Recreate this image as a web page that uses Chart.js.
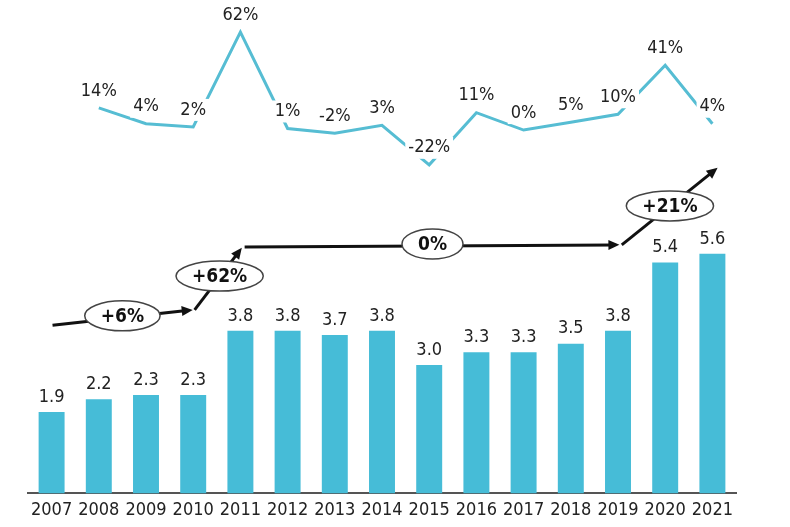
<!DOCTYPE html>
<html>
<head>
<meta charset="utf-8">
<script src="https://cdn.jsdelivr.net/npm/chart.js@4/dist/chart.umd.min.js"></script>
<style>
  html, body { margin: 0; padding: 0; background: #fff; }
  #wrap { width: 790px; height: 527px; }
</style>
</head>
<body>
<div id="wrap"><canvas id="chart"></canvas></div>
<script>
const years = ['2007', '2008', '2009', '2010', '2011', '2012', '2013', '2014', '2015', '2016', '2017', '2018', '2019', '2020', '2021'];
const values = [1.9, 2.2, 2.3, 2.3, 3.8, 3.8, 3.7, 3.8, 3.0, 3.3, 3.3, 3.5, 3.8, 5.4, 5.6];
const growth = [null, 14, 4, 2, 62, 1, -2, 3, -22, 11, 0, 5, 10, 41, 4];

// trend arrows, in [category index, value] units
const arrowSegments = [
    [[0.02, 3.93], [2.99, 4.29]],
    [[3.03, 4.29], [4.03, 5.74]],
    [[4.09, 5.76], [12.03, 5.81]],
    [[12.08, 5.81], [14.11, 7.61]]
];
const arrowLabels = ['+6%', '+62%', '0%', '+21%'];
const arrowLabelPos = [[1.5, 4.15], [3.56, 5.08], [8.07, 5.83], [13.1, 6.72]];

const FONT = "'DejaVu Sans Condensed', 'DejaVu Sans', sans-serif";
const BAR_COLOR = '#46BCD7';
const LINE_COLOR = '#56BDD3';

const labelsPlugin = {
    id: 'labels',
    afterDatasetsDraw(chart) {
        const ctx = chart.ctx;
        const x = chart.scales.x, y = chart.scales.y;
        ctx.save();
        ctx.textAlign = 'center';
        ctx.textBaseline = 'middle';

        // bar value labels
        ctx.font = '18px ' + FONT;
        ctx.fillStyle = '#222';
        chart.getDatasetMeta(0).data.forEach((bar, i) => {
            ctx.fillText(values[i].toFixed(1), bar.x, bar.y - 15);
        });

        // growth labels with white box behind them
        chart.getDatasetMeta(1).data.forEach((pt, i) => {
            if (growth[i] === null) return;
            const txt = growth[i] + '%';
            const w = ctx.measureText(txt).width;
            ctx.fillStyle = '#fff';
            ctx.fillRect(pt.x - w / 2 - 3, pt.y - 17 - 11, w + 6, 22);
            ctx.fillStyle = '#222';
            ctx.fillText(txt, pt.x, pt.y - 17);
        });

        // arrows
        ctx.strokeStyle = '#111';
        ctx.fillStyle = '#111';
        ctx.lineWidth = 3;
        arrowSegments.forEach(seg => {
            const x0 = x.getPixelForValue(seg[0][0]), y0 = y.getPixelForValue(seg[0][1]);
            const x1 = x.getPixelForValue(seg[1][0]), y1 = y.getPixelForValue(seg[1][1]);
            const a = Math.atan2(y1 - y0, x1 - x0);
            ctx.beginPath();
            ctx.moveTo(x0, y0);
            ctx.lineTo(x1 - 6 * Math.cos(a), y1 - 6 * Math.sin(a));
            ctx.stroke();
            ctx.beginPath();
            ctx.moveTo(x1, y1);
            ctx.lineTo(x1 - 11 * Math.cos(a) + 5 * Math.sin(a), y1 - 11 * Math.sin(a) - 5 * Math.cos(a));
            ctx.lineTo(x1 - 11 * Math.cos(a) - 5 * Math.sin(a), y1 - 11 * Math.sin(a) + 5 * Math.cos(a));
            ctx.closePath();
            ctx.fill();
        });

        // ellipses with the growth between periods
        ctx.font = 'bold 19px ' + FONT;
        arrowLabels.forEach((txt, i) => {
            const cx = x.getPixelForValue(arrowLabelPos[i][0]);
            const cy = y.getPixelForValue(arrowLabelPos[i][1]);
            const w = ctx.measureText(txt).width;
            ctx.beginPath();
            ctx.ellipse(cx, cy, w / 2 + 16, 15, 0, 0, Math.PI * 2);
            ctx.fillStyle = '#fff';
            ctx.fill();
            ctx.lineWidth = 1.5;
            ctx.strokeStyle = '#444';
            ctx.stroke();
            ctx.fillStyle = '#111';
            ctx.fillText(txt, cx, cy + 1);
        });
        ctx.restore();
    }
};

new Chart(document.getElementById('chart'), {
    data: {
        labels: years,
        datasets: [{
            type: 'bar',
            data: values,
            backgroundColor: BAR_COLOR,
            barPercentage: 0.55,
            categoryPercentage: 1,
            yAxisID: 'y',
            order: 2
        }, {
            type: 'line',
            data: growth,
            borderColor: LINE_COLOR,
            borderWidth: 3,
            pointRadius: 0,
            tension: 0,
            spanGaps: false,
            yAxisID: 'y2',
            order: 1
        }]
    },
    options: {
        responsive: true,
        maintainAspectRatio: false,
        animation: false,
        layout: { padding: { left: 28, right: 54, top: 10, bottom: 0 } },
        plugins: {
            legend: { display: false },
            tooltip: { enabled: false }
        },
        scales: {
            x: {
                grid: { display: false, drawTicks: false },
                border: { display: true, color: '#555', width: 2 },
                ticks: { color: '#222', font: { family: FONT, size: 18 }, padding: 6, maxRotation: 0, autoSkip: false }
            },
            y: { display: false, min: 0, max: 11.3 },
            y2: { display: false, min: -230, max: 76 }
        }
    },
    plugins: [labelsPlugin]
});
</script>
</body>
</html>
